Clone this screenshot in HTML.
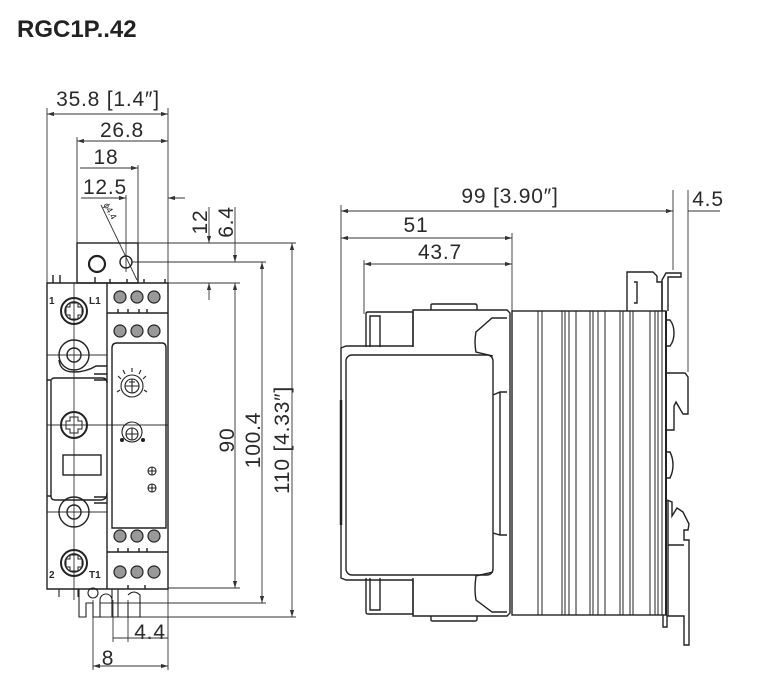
<!DOCTYPE html>
<html><head><meta charset="utf-8"><style>
html,body{margin:0;padding:0;background:#fff;}
svg{display:block}
text{font-family:"Liberation Sans",sans-serif;fill:#2a2a2a}
</style></head><body>
<svg width="760" height="682" viewBox="0 0 760 682" xmlns="http://www.w3.org/2000/svg">
<defs>
<marker id="a" viewBox="0 0 10 6" refX="10" refY="3" markerWidth="8" markerHeight="5" orient="auto-start-reverse"><path d="M0,0 L10,3 L0,6 z" fill="#333"/></marker>
</defs>
<text x="17" y="37" font-size="24" font-weight="bold" style="fill:#222">RGC1P..42</text>

<g font-size="21" letter-spacing="0.8">
<text x="108" y="106" text-anchor="middle">35.8 [1.4″]</text>
<text x="122" y="137" text-anchor="middle">26.8</text>
<text x="106" y="164" text-anchor="middle">18</text>
<text x="105" y="194" text-anchor="middle">12.5</text>
<text transform="translate(207,222) rotate(-90)" text-anchor="middle">12</text>
<text transform="translate(233,222) rotate(-90)" text-anchor="middle">6.4</text>
<text transform="translate(234,440) rotate(-90)" text-anchor="middle">90</text>
<text transform="translate(260,440) rotate(-90)" text-anchor="middle">100.4</text>
<text transform="translate(289,440) rotate(-90)" text-anchor="middle">110 [4.33″]</text>
<text x="150" y="639" text-anchor="middle">4.4</text>
<text x="108" y="665" text-anchor="middle">8</text>
<text x="510" y="203" text-anchor="middle">99 [3.90″]</text>
<text x="416" y="232" text-anchor="middle">51</text>
<text x="440" y="259" text-anchor="middle">43.7</text>
<text x="708" y="206" text-anchor="middle">4.5</text>
</g>
<text transform="translate(103,205) rotate(60)" font-size="9">ϕ4.4</text>

<g stroke="#333" stroke-width="0.9" fill="none">
<line x1="47" y1="108" x2="47" y2="360"/>
<line x1="168" y1="108" x2="168" y2="670"/>
<line x1="47" y1="114" x2="168" y2="114" marker-start="url(#a)" marker-end="url(#a)"/>
<line x1="77" y1="137" x2="77" y2="245"/>
<line x1="77" y1="141" x2="168" y2="141" marker-start="url(#a)" marker-end="url(#a)"/>
<line x1="138" y1="165" x2="138" y2="260"/>
<line x1="80" y1="168" x2="138" y2="168" marker-end="url(#a)"/>
<line x1="126" y1="195" x2="126" y2="272"/>
<line x1="81" y1="198" x2="126" y2="198" marker-end="url(#a)"/>
<line x1="185" y1="198" x2="168" y2="198" marker-end="url(#a)"/>
<line x1="101" y1="205" x2="137" y2="280"/>
<line x1="138" y1="243" x2="296" y2="243"/>
<line x1="132" y1="262" x2="266" y2="262"/>
<line x1="168" y1="283" x2="240" y2="283"/>
<line x1="209" y1="207" x2="209" y2="243" />
<line x1="209" y1="228" x2="209" y2="243" marker-end="url(#a)"/>
<line x1="209" y1="300" x2="209" y2="283" marker-end="url(#a)"/>
<line x1="235" y1="207" x2="235" y2="262" marker-end="url(#a)"/>
<line x1="235" y1="283" x2="235" y2="588" marker-start="url(#a)" marker-end="url(#a)"/>
<line x1="262" y1="262" x2="262" y2="603" marker-start="url(#a)" marker-end="url(#a)"/>
<line x1="292" y1="243" x2="292" y2="617" marker-start="url(#a)" marker-end="url(#a)"/>
<line x1="168" y1="588" x2="240" y2="588"/>
<line x1="100" y1="603" x2="266" y2="603"/>
<line x1="100" y1="617" x2="296" y2="617"/>
<line x1="113" y1="600" x2="113" y2="642"/>
<line x1="128" y1="600" x2="128" y2="642"/>
<line x1="113" y1="638" x2="168" y2="638"/>
<line x1="93" y1="600" x2="93" y2="670"/>
<line x1="93" y1="666" x2="168" y2="666" marker-start="url(#a)" marker-end="url(#a)"/>
<line x1="74" y1="283" x2="74" y2="600"/>
<line x1="47" y1="355" x2="107" y2="355"/>
<line x1="47" y1="425" x2="168" y2="425"/>
<line x1="47" y1="512" x2="107" y2="512"/>

<line x1="341" y1="205" x2="341" y2="348"/>
<line x1="673" y1="190" x2="673" y2="270"/>
<line x1="688" y1="190" x2="688" y2="372"/>
<line x1="341" y1="211" x2="673" y2="211" marker-start="url(#a)" marker-end="url(#a)"/>
<line x1="688" y1="211" x2="720" y2="211"/>
<line x1="512" y1="233" x2="512" y2="312"/>
<line x1="341" y1="238" x2="512" y2="238" marker-start="url(#a)" marker-end="url(#a)"/>
<line x1="364" y1="260" x2="364" y2="314"/>
<line x1="364" y1="264" x2="512" y2="264" marker-start="url(#a)" marker-end="url(#a)"/>
</g>

<g stroke="#222" stroke-width="1.4" fill="none">
<rect x="77" y="243" width="61" height="40"/>
<circle cx="97" cy="264" r="8" stroke-width="2.2"/>
<circle cx="126" cy="262" r="6"/>
<path d="M47,283 H168 V589 H47 Z"/>
<line x1="107" y1="283" x2="107" y2="589"/>
<path d="M53,283 v-8 M60,283 v-8 M95,283 v-6 M110,283 v-4 M127,283 v-4 M144,283 v-4 M165,283 v-4"/>
<circle cx="74" cy="311" r="13" stroke-width="2"/><circle cx="74" cy="311" r="9"/>
<path d="M70,303 h8 v4 h4 v8 h-4 v4 h-8 v-4 h-4 v-8 h4 z" stroke-width="1"/>
<circle cx="74" cy="355" r="15"/><circle cx="74" cy="355" r="7"/>
<path d="M59,360 Q60,372 74,372 Q86,372 96,366 H107" />
<circle cx="74" cy="425" r="13" stroke-width="2"/>
<path d="M70,417 h8 v4 h4 v8 h-4 v4 h-8 v-4 h-4 v-8 h4 z" stroke-width="1"/>
<circle cx="74" cy="512" r="15"/><circle cx="74" cy="512" r="7"/>
<circle cx="74" cy="563" r="13" stroke-width="2"/><circle cx="74" cy="563" r="9"/>
<path d="M70,555 h8 v4 h4 v8 h-4 v4 h-8 v-4 h-4 v-8 h4 z" stroke-width="1"/>
<path d="M52,380 Q51,378 55,378 H102 Q107,378 107,383 M107,493 Q107,500 100,500 H55 Q51,500 51,496 V380"/>
<rect x="63" y="455" width="38" height="20"/>
<path d="M47,380 H51 M47,496 H51"/>
<path d="M94,374 H107 M94,380 H107 M94,497 H107 M94,503 H107"/>
<path d="M112,528 V348 Q112,343 117,343 H162 Q166,343 166,348 V528 Z"/>
<line x1="107" y1="313" x2="168" y2="313"/>
<line x1="107" y1="552" x2="168" y2="552"/>
<path d="M118,313 v-4 M128,313 v-4 M139,313 v-4 M147,313 v-4 M118,552 v-4 M128,552 v-4 M139,552 v-4 M147,552 v-4"/>
<path d="M128,589 v-4 M145,589 v-4"/>
</g>
<g fill="#999" stroke="#222" stroke-width="1.2">
<circle cx="120" cy="297" r="6"/><circle cx="137" cy="297" r="6"/><circle cx="154" cy="297" r="6"/>
<circle cx="120" cy="331" r="6"/><circle cx="137" cy="331" r="6"/><circle cx="154" cy="331" r="6"/>
<circle cx="120" cy="536" r="6"/><circle cx="137" cy="536" r="6"/><circle cx="154" cy="536" r="6"/>
<circle cx="120" cy="572" r="6"/><circle cx="137" cy="572" r="6"/><circle cx="154" cy="572" r="6"/>
</g>
<g stroke="#222" stroke-width="1.1" fill="none">
<circle cx="132" cy="386" r="11"/><circle cx="132" cy="386" r="7"/>
<path d="M129,382 h6 M132,379 v14 M125,386 h14"/>
<path d="M121,379 l-3,-3 M125,374 l-2,-4 M132,372 v-4 M139,374 l2,-4 M143,379 l3,-3 M120,390 l-3,2 M144,390 l3,2"/>
<circle cx="132" cy="432" r="10"/><circle cx="132" cy="434" r="6"/>
<path d="M126,434 h12 M132,428 v12"/>
<circle cx="122" cy="440" r="1.5" fill="#222"/><circle cx="143" cy="440" r="1.5" fill="#222"/>
<circle cx="152" cy="471" r="4"/><path d="M148,471 h8 M152,467 v8"/>
<circle cx="152" cy="488" r="4"/><path d="M148,488 h8 M152,484 v8"/>
<path d="M59,589 v8 M78,589 v8"/>
<path d="M79,589 V617 H86 V603 H93 V617 H100 V600 A6,6 0 0 1 112,600 V617 H118 V603 M118,589 V603"/>
<circle cx="93" cy="593" r="5"/>
<path d="M112,589 V617 M128,603 V617 H140 V595 Q134,589 128,595"/>
</g>
<g font-size="10" font-weight="bold"><text x="49" y="304">1</text><text x="89" y="304">L1</text><text x="49" y="578">2</text><text x="89" y="578">T1</text></g>

<g stroke="#222" stroke-width="1.4" fill="none">
<path d="M366,347 V314 Q366,312 368,312 H413 V347"/>
<path d="M370,347 V316 H380 V347"/>
<path d="M431,310 V305 Q431,304 433,304 H475 Q477,304 477,306 V310"/>
<path d="M366,578 V612 Q366,614 368,614 H413 V578"/>
<path d="M370,578 V610 H380 V578"/>
<path d="M431,616 V620 Q431,621 433,621 H475 Q477,621 477,619 V616"/>
<path d="M341,348 L346,346 H413 V310 H507 L510,313 V613 L507,616 H413 V580 H346 L341,578 Z"/>
<rect x="346" y="355" width="147" height="220" rx="6"/>
<path d="M493,356 L476,352 Q474,342 476,332 L492,318 H507"/>
<path d="M493,572 L476,576 Q474,590 476,600 L492,612 H507"/>
<path d="M493,395 L500,392 H507 M493,533 L500,535 H507 M500,392 V535"/>
<line x1="341" y1="400" x2="341" y2="525" stroke-width="2.5"/>
<rect x="512" y="311" width="154" height="304"/>
<path d="M538,311V615 M542,311V615 M562,311V615 M565,311V615 M569,311V615 M576,311V615 M590,311V615 M593,311V615 M598,311V615 M605,311V615 M620,311V615 M623,311V615 M630,311V615 M633,311V615 M650,311V615 M655,311V615 M658,311V615 M662,311V615" stroke-width="1"/>
<line x1="666" y1="311" x2="666" y2="615" stroke-width="2"/>
<path d="M627,311 V272 H653 L657,276 V282 H662 V311"/>
<path d="M634,282 H637 V303 H634"/>
<path d="M662,311 V280 L666,273 H681 V277 H668 V311"/>
<path d="M666,320 H670 Q674,325 674,333 Q674,341 670,346 H666"/>
<path d="M666,373 H685 L688,377 V414 H683 L676,402 L674,406 L674,430 H667"/>
<path d="M666,452 H670 Q673,458 673,465 Q673,472 670,478 H666"/>
<path d="M667,500 L672,502 V516 L677,508 L683,512 L689,524 L688,530 L684,530 L684,540 H689 V645 H684 V616 H668 V545 H684 M668,545 V500"/>
<path d="M663,615 V627 H667 V615"/>
</g>
</svg>
</body></html>
